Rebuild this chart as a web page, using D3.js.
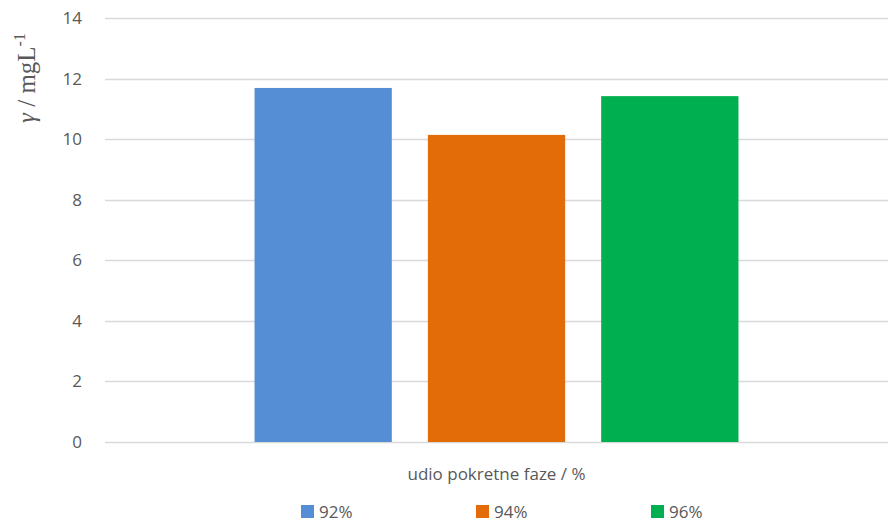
<!DOCTYPE html>
<html>
<head>
<meta charset="utf-8">
<script src="https://cdn.jsdelivr.net/npm/d3@7"></script>
<style>
  body { margin: 0; background: #fff; }
  svg text { font-family: "Open Sans", "Noto Sans", sans-serif; fill: #595959; }
</style>
</head>
<body>
<div id="chart"></div>
<script>
// data
var categories = ["udio pokretne faze / %"];
var seriesNames = ["92%", "94%", "96%"];
var seriesValues = [11.69, 10.14, 11.42];
var seriesColors = ["#558ED5", "#E36C09", "#00AF50"];
var yTicks = [0, 2, 4, 6, 8, 10, 12, 14];

var W = 888, H = 528;
var margin = {top: 18, right: 0, bottom: 86, left: 105};
var width = W - margin.left - margin.right,
    height = H - margin.top - margin.bottom;

var svg = d3.select("#chart")
  .append("svg")
    .attr("width", W)
    .attr("height", H)
  .append("g")
    .attr("transform", "translate(" + margin.left + "," + margin.top + ")");

var y = d3.scaleLinear()
    .domain([0, 14])
    .range([height, 0]);

var x0 = d3.scaleBand()
    .domain(categories)
    .range([0, width])
    .paddingInner(0)
    .paddingOuter(0.309);

var x1 = d3.scaleBand()
    .domain(seriesNames)
    .range([0, x0.bandwidth()])
    .paddingInner(0.208)
    .paddingOuter(0);

// gridlines
svg.append("g")
    .selectAll("line")
    .data(yTicks)
    .enter()
    .append("line")
    .attr("x1", 0)
    .attr("x2", width)
    .attr("y1", function(d) { return Math.round(y(d)) + 0.5; })
    .attr("y2", function(d) { return Math.round(y(d)) + 0.5; })
    .style("stroke", "#d9d9d9")
    .style("stroke-width", 1.3);

// y axis labels
var yAxis = svg.append("g")
    .call(d3.axisLeft(y).tickValues(yTicks).tickSize(0).tickPadding(23));
yAxis.select(".domain").remove();
yAxis.selectAll("text")
    .style("font-size", "17px")
    .style("fill", "#595959")
    .style("font-family", "'Open Sans', sans-serif");

// bars
var group = svg.selectAll(".cat")
    .data(categories)
    .enter()
    .append("g")
    .attr("class", "cat")
    .attr("transform", function(d) { return "translate(" + x0(d) + ",0)"; });

group.selectAll("rect")
    .data(seriesNames.map(function(n, i) { return {name: n, value: seriesValues[i], color: seriesColors[i]}; }))
    .enter()
    .append("rect")
    .attr("x", function(d) { return x1(d.name); })
    .attr("y", function(d) { return y(d.value); })
    .attr("width", x1.bandwidth())
    .attr("height", function(d) { return y(0) - y(d.value); })
    .style("fill", function(d) { return d.color; });

// x axis title
svg.append("text")
    .attr("x", x0(categories[0]) + x0.bandwidth() / 2)
    .attr("y", height + 38)
    .attr("text-anchor", "middle")
    .style("font-size", "17px")
    .text(categories[0]);

// y axis title (serif, italic gamma)
var yt = svg.append("text")
    .attr("transform", "translate(" + (-70) + "," + 60 + ") rotate(-90)")
    .attr("text-anchor", "middle")
    .style("font-family", "'Liberation Serif', 'DejaVu Serif', serif")
    .style("font-size", "25px")
    .style("fill", "#595959");
yt.append("tspan").style("font-style", "italic").style("font-family", "'Liberation Serif', serif").text("\u03b3");
yt.append("tspan").style("font-family", "'Liberation Serif', serif").text(" / mgL");
yt.append("tspan").attr("dy", -10).style("font-size", "16px").style("font-family", "'Liberation Serif', serif").text("-1");

// legend
var legend = svg.append("g")
    .attr("transform", "translate(" + (301 - margin.left) + "," + (H - margin.top - 17) + ")");
var li = legend.selectAll("g")
    .data(seriesNames)
    .enter()
    .append("g")
    .attr("transform", function(d, i) { return "translate(" + (i * 175) + ",0)"; });
li.append("rect")
    .attr("x", 0)
    .attr("y", -6)
    .attr("width", 13)
    .attr("height", 13)
    .style("fill", function(d, i) { return seriesColors[i]; });
li.append("text")
    .attr("x", 18)
    .attr("y", 1)
    .attr("dy", "0.35em")
    .style("font-size", "17px")
    .text(function(d) { return d; });
</script>
</body>
</html>
